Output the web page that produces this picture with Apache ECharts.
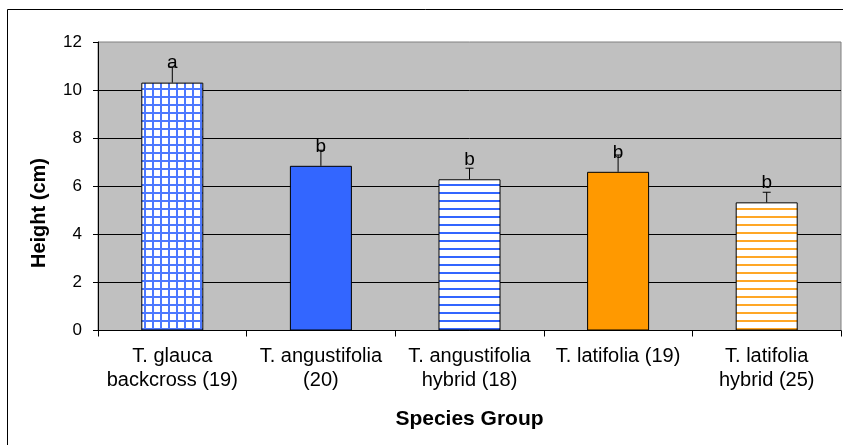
<!DOCTYPE html>
<html>
<head>
<meta charset="utf-8">
<script src="https://cdn.jsdelivr.net/npm/echarts@6/dist/echarts.min.js"></script>
<style>
  html, body { margin: 0; padding: 0; background: #fff; }
  #chart { width: 843px; height: 445px; }
</style>
</head>
<body>
<div id="chart"></div>
<script>
// Mean plant height per species group, with upper error bars and significance letters
const categories = [
  'T. glauca\nbackcross (19)',
  'T. angustifolia\n(20)',
  'T. angustifolia\nhybrid (18)',
  'T. latifolia (19)',
  'T. latifolia\nhybrid (25)'
];
const heights = [10.31, 6.85, 6.29, 6.60, 5.33];
const errors = [0.65, 0.65, 0.46, 0.70, 0.42];
const letters = ['a', 'b', 'b', 'b', 'b'];
const yTicks = [0, 2, 4, 6, 8, 10, 12];

const FONT = '"Liberation Sans", Arial, sans-serif';

// Fill patterns for the bars
function gridPattern(color) {
  const c = document.createElement('canvas');
  c.width = 8; c.height = 8;
  const g = c.getContext('2d');
  g.fillStyle = '#ffffff'; g.fillRect(0, 0, 8, 8);
  g.fillStyle = color;
  g.fillRect(0, 0, 8, 2);
  g.fillRect(0, 0, 2, 8);
  return { image: c, repeat: 'repeat' };
}
function stripePattern(color, thick) {
  const c = document.createElement('canvas');
  c.width = 8; c.height = 8;
  const g = c.getContext('2d');
  g.fillStyle = '#ffffff'; g.fillRect(0, 0, 8, 8);
  g.fillStyle = color;
  g.fillRect(0, 0, 8, thick);
  return { image: c, repeat: 'repeat' };
}

const fills = [
  gridPattern('#4d79ff'),
  '#3366ff',
  stripePattern('#3366ff', 2),
  '#ff9900',
  stripePattern('#ffa726', 2)
];

const chart = echarts.init(document.getElementById('chart'), null, { renderer: 'canvas' });

chart.setOption({
  animation: false,
  backgroundColor: '#ffffff',
  graphic: [
    {
      type: 'rect',
      shape: { x: 7.5, y: 9.5, width: 900, height: 500 },
      style: { fill: 'none', stroke: '#000', lineWidth: 1 },
      silent: true,
      z: 0
    },
    {
      type: 'text',
      x: 39,
      y: 213,
      rotation: Math.PI / 2,
      style: {
        text: 'Height (cm)',
        align: 'center',
        verticalAlign: 'middle',
        font: 'bold 20px ' + FONT,
        fill: '#000'
      },
      silent: true,
      z: 5
    }
  ],
  grid: {
    left: 98, right: 2, top: 42, bottom: 114.5,
    show: true,
    backgroundColor: '#c0c0c0',
    borderColor: '#808080',
    borderWidth: 1
  },
  xAxis: {
    type: 'category',
    data: categories,
    name: 'Species Group',
    nameLocation: 'middle',
    nameGap: 78,
    nameTextStyle: { fontFamily: FONT, fontSize: 21, fontWeight: 'bold', color: '#000' },
    axisLine: { show: true, lineStyle: { color: '#000', width: 1 } },
    axisTick: { show: true, length: 6, lineStyle: { color: '#000' } },
    axisLabel: {
      fontFamily: FONT, fontSize: 20, color: '#000',
      lineHeight: 24, margin: 14, interval: 0
    },
    splitLine: { show: false }
  },
  yAxis: {
    type: 'value',
    min: yTicks[0],
    max: yTicks[yTicks.length - 1],
    interval: 2,
    axisLine: { show: true, lineStyle: { color: '#000', width: 1 } },
    axisTick: { show: true, length: 5, lineStyle: { color: '#000' } },
    axisLabel: { fontFamily: FONT, fontSize: 17, color: '#000', margin: 16 },
    splitLine: {
      show: true,
      showMinLine: false,
      showMaxLine: false,
      lineStyle: { color: '#000', width: 1 }
    }
  },
  series: [
    {
      type: 'bar',
      barWidth: 62,
      data: heights.map((v, i) => ({
        value: v,
        itemStyle: { color: fills[i], borderColor: '#000', borderWidth: 1 }
      })),
      z: 2
    },
    {
      // upper error bars and group letters
      type: 'custom',
      data: heights.map((v, i) => [i, v, errors[i]]),
      z: 3,
      renderItem: function (params, api) {
        const i = api.value(0);
        const v = api.value(1);
        const e = api.value(2);
        const base = api.coord([i, v]);
        const top = api.coord([i, v + e]);
        const cap = 4;
        return {
          type: 'group',
          children: [
            {
              type: 'line',
              shape: { x1: base[0], y1: base[1], x2: top[0], y2: top[1] },
              style: { stroke: '#000', lineWidth: 1 }
            },
            {
              type: 'line',
              shape: { x1: top[0] - cap, y1: top[1], x2: top[0] + cap, y2: top[1] },
              style: { stroke: '#000', lineWidth: 1 }
            },
            {
              type: 'text',
              z2: 10,
              style: {
                text: letters[params.dataIndex],
                x: base[0],
                y: base[1] - 10,
                align: 'center',
                verticalAlign: 'bottom',
                font: '19px ' + FONT,
                fill: '#000'
              }
            }
          ]
        };
      }
    }
  ]
});
</script>
</body>
</html>
